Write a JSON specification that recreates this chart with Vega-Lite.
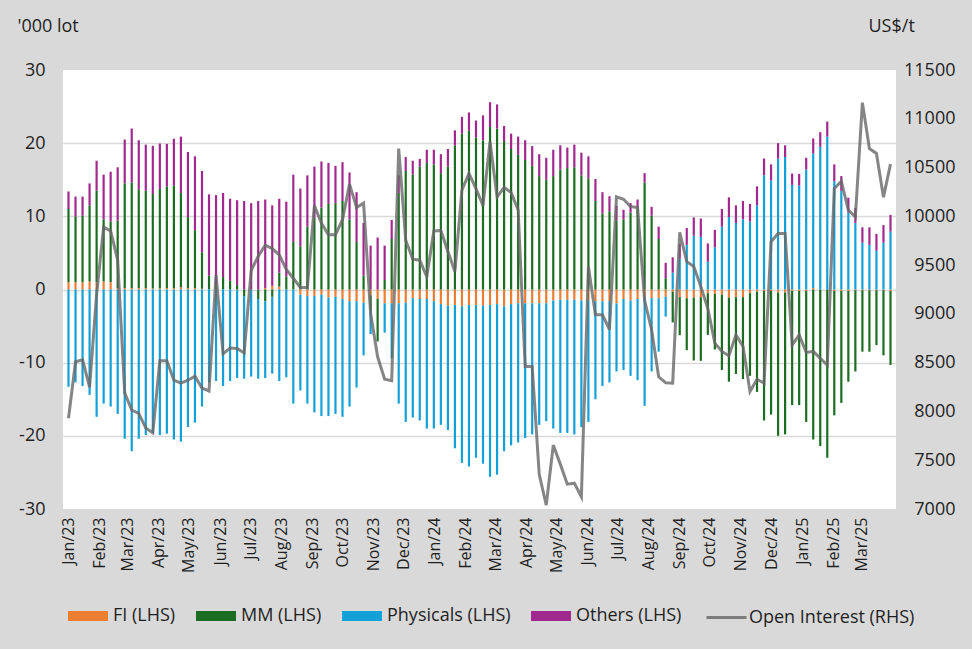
{
  "$schema": "https://vega.github.io/schema/vega-lite/v6.json",
  "description": "Weekly positions by trader category ('000 lot, LHS) with open interest (US$/t, RHS), Jan 2023 - Apr 2025.",
  "width": 833,
  "height": 439,
  "autosize": {"type": "none"},
  "padding": {"left": 63, "top": 70, "right": 76, "bottom": 140},
  "background": "#d9d9d9",
  "datasets": {
    "positions": [
      {"date": "2023-01-03", "FI": 1.0, "MM": 10.0, "Physicals": -13.3, "Others": 2.4, "OI": 7930},
      {"date": "2023-01-10", "FI": 1.0, "MM": 9.0, "Physicals": -12.7, "Others": 2.7, "OI": 8510},
      {"date": "2023-01-17", "FI": 1.0, "MM": 9.1, "Physicals": -13.2, "Others": 2.6, "OI": 8530},
      {"date": "2023-01-24", "FI": 1.1, "MM": 10.4, "Physicals": -14.4, "Others": 3.0, "OI": 8250},
      {"date": "2023-01-31", "FI": 1.0, "MM": 12.5, "Physicals": -17.4, "Others": 4.1, "OI": 9200},
      {"date": "2023-02-07", "FI": 1.1, "MM": 8.5, "Physicals": -15.6, "Others": 6.1, "OI": 9890},
      {"date": "2023-02-14", "FI": 1.0, "MM": 8.3, "Physicals": -16.0, "Others": 6.8, "OI": 9850},
      {"date": "2023-02-21", "FI": 0.2, "MM": 9.2, "Physicals": -17.0, "Others": 7.3, "OI": 9550},
      {"date": "2023-02-28", "FI": 0.2, "MM": 14.3, "Physicals": -20.4, "Others": 6.0, "OI": 8190},
      {"date": "2023-03-07", "FI": 0.2, "MM": 14.4, "Physicals": -22.1, "Others": 7.4, "OI": 8015},
      {"date": "2023-03-14", "FI": 0.2, "MM": 13.5, "Physicals": -20.4, "Others": 6.7, "OI": 7980},
      {"date": "2023-03-21", "FI": 0.2, "MM": 13.3, "Physicals": -19.9, "Others": 6.3, "OI": 7830},
      {"date": "2023-03-28", "FI": 0.15, "MM": 12.9, "Physicals": -19.6, "Others": 6.6, "OI": 7780},
      {"date": "2023-04-04", "FI": 0.15, "MM": 13.6, "Physicals": -19.9, "Others": 6.2, "OI": 8520},
      {"date": "2023-04-11", "FI": 0.2, "MM": 13.9, "Physicals": -19.7, "Others": 5.8, "OI": 8520},
      {"date": "2023-04-18", "FI": 0.2, "MM": 14.0, "Physicals": -20.5, "Others": 6.4, "OI": 8320},
      {"date": "2023-04-25", "FI": 0.3, "MM": 12.9, "Physicals": -20.8, "Others": 7.7, "OI": 8290},
      {"date": "2023-05-02", "FI": 0.2, "MM": 9.7, "Physicals": -18.8, "Others": 8.9, "OI": 8320},
      {"date": "2023-05-09", "FI": 0.2, "MM": 7.9, "Physicals": -18.2, "Others": 10.1, "OI": 8360},
      {"date": "2023-05-16", "FI": 0.1, "MM": 5.0, "Physicals": -16.0, "Others": 11.1, "OI": 8240},
      {"date": "2023-05-23", "FI": 0.0, "MM": 1.9, "Physicals": -12.7, "Others": 11.1, "OI": 8210},
      {"date": "2023-05-30", "FI": 0.0, "MM": 0.5, "Physicals": -12.5, "Others": 12.4, "OI": 9400},
      {"date": "2023-06-06", "FI": 0.0, "MM": 1.7, "Physicals": -13.2, "Others": 11.5, "OI": 8590},
      {"date": "2023-06-13", "FI": 0.0, "MM": 1.2, "Physicals": -12.5, "Others": 11.2, "OI": 8650},
      {"date": "2023-06-20", "FI": -0.1, "MM": 0.6, "Physicals": -12.0, "Others": 11.6, "OI": 8645},
      {"date": "2023-06-27", "FI": 0.0, "MM": -0.9, "Physicals": -11.3, "Others": 12.1, "OI": 8600},
      {"date": "2023-07-04", "FI": 0.0, "MM": 0.0, "Physicals": -11.9, "Others": 11.8, "OI": 9445},
      {"date": "2023-07-11", "FI": 0.0, "MM": -1.3, "Physicals": -10.9, "Others": 12.1, "OI": 9590},
      {"date": "2023-07-18", "FI": 0.2, "MM": -1.6, "Physicals": -10.5, "Others": 12.1, "OI": 9705},
      {"date": "2023-07-25", "FI": 0.5, "MM": -1.0, "Physicals": -10.5, "Others": 11.0, "OI": 9670},
      {"date": "2023-08-01", "FI": 0.4, "MM": 1.9, "Physicals": -12.5, "Others": 10.1, "OI": 9605},
      {"date": "2023-08-08", "FI": 0.0, "MM": 1.8, "Physicals": -12.0, "Others": 10.2, "OI": 9455},
      {"date": "2023-08-15", "FI": 0.0, "MM": 6.5, "Physicals": -15.6, "Others": 9.2, "OI": 9365},
      {"date": "2023-08-22", "FI": -0.7, "MM": 5.9, "Physicals": -13.1, "Others": 7.9, "OI": 9270},
      {"date": "2023-08-29", "FI": -0.9, "MM": 8.6, "Physicals": -14.7, "Others": 7.0, "OI": 9270},
      {"date": "2023-09-05", "FI": -0.9, "MM": 9.8, "Physicals": -15.9, "Others": 7.0, "OI": 10110},
      {"date": "2023-09-12", "FI": -0.7, "MM": 11.2, "Physicals": -16.6, "Others": 6.3, "OI": 9930},
      {"date": "2023-09-19", "FI": -1.1, "MM": 11.7, "Physicals": -16.2, "Others": 5.6, "OI": 9810},
      {"date": "2023-09-26", "FI": -1.0, "MM": 11.8, "Physicals": -16.0, "Others": 5.1, "OI": 9810},
      {"date": "2023-10-03", "FI": -1.3, "MM": 12.1, "Physicals": -16.1, "Others": 5.3, "OI": 9965},
      {"date": "2023-10-10", "FI": -1.6, "MM": 9.6, "Physicals": -14.4, "Others": 6.4, "OI": 10330},
      {"date": "2023-10-17", "FI": -1.6, "MM": 6.5, "Physicals": -11.8, "Others": 6.8, "OI": 10090},
      {"date": "2023-10-24", "FI": -1.8, "MM": 1.9, "Physicals": -7.2, "Others": 7.2, "OI": 10135},
      {"date": "2023-10-31", "FI": -0.8, "MM": -2.0, "Physicals": -3.3, "Others": 6.0, "OI": 9005},
      {"date": "2023-11-07", "FI": -1.3, "MM": -5.8, "Physicals": 0.0, "Others": 7.1, "OI": 8560},
      {"date": "2023-11-14", "FI": -1.9, "MM": 1.3, "Physicals": -4.0, "Others": 4.7, "OI": 8330},
      {"date": "2023-11-21", "FI": -1.9, "MM": 6.9, "Physicals": -7.5, "Others": 2.6, "OI": 8315},
      {"date": "2023-11-28", "FI": -1.9, "MM": 13.2, "Physicals": -13.7, "Others": 2.4, "OI": 10695},
      {"date": "2023-12-05", "FI": -1.8, "MM": 16.2, "Physicals": -16.3, "Others": 1.9, "OI": 9755},
      {"date": "2023-12-12", "FI": -1.2, "MM": 15.7, "Physicals": -16.3, "Others": 1.9, "OI": 9560},
      {"date": "2023-12-19", "FI": -1.3, "MM": 16.8, "Physicals": -16.6, "Others": 1.05, "OI": 9550},
      {"date": "2023-12-26", "FI": -1.3, "MM": 17.3, "Physicals": -17.7, "Others": 1.8, "OI": 9380},
      {"date": "2024-01-02", "FI": -1.6, "MM": 17.1, "Physicals": -17.4, "Others": 2.0, "OI": 9850},
      {"date": "2024-01-09", "FI": -2.0, "MM": 15.9, "Physicals": -16.5, "Others": 2.6, "OI": 9855},
      {"date": "2024-01-16", "FI": -2.2, "MM": 16.8, "Physicals": -17.0, "Others": 2.4, "OI": 9640},
      {"date": "2024-01-23", "FI": -2.1, "MM": 19.7, "Physicals": -19.6, "Others": 2.05, "OI": 9435},
      {"date": "2024-01-30", "FI": -2.3, "MM": 21.3, "Physicals": -21.4, "Others": 2.3, "OI": 10270},
      {"date": "2024-02-06", "FI": -2.1, "MM": 21.7, "Physicals": -22.1, "Others": 2.5, "OI": 10440},
      {"date": "2024-02-13", "FI": -2.1, "MM": 20.8, "Physicals": -20.9, "Others": 2.3, "OI": 10285},
      {"date": "2024-02-20", "FI": -2.2, "MM": 20.4, "Physicals": -21.6, "Others": 3.4, "OI": 10110},
      {"date": "2024-02-27", "FI": -2.1, "MM": 22.2, "Physicals": -23.5, "Others": 3.4, "OI": 10765},
      {"date": "2024-03-05", "FI": -2.0, "MM": 22.0, "Physicals": -23.3, "Others": 3.3, "OI": 10200},
      {"date": "2024-03-12", "FI": -2.3, "MM": 20.3, "Physicals": -19.8, "Others": 2.05, "OI": 10295},
      {"date": "2024-03-19", "FI": -2.0, "MM": 19.2, "Physicals": -19.3, "Others": 2.1, "OI": 10245},
      {"date": "2024-03-26", "FI": -1.9, "MM": 18.4, "Physicals": -19.0, "Others": 2.5, "OI": 10065},
      {"date": "2024-04-02", "FI": -1.9, "MM": 17.7, "Physicals": -18.4, "Others": 2.7, "OI": 8460},
      {"date": "2024-04-09", "FI": -1.9, "MM": 16.9, "Physicals": -17.9, "Others": 2.7, "OI": 8460},
      {"date": "2024-04-16", "FI": -1.9, "MM": 15.5, "Physicals": -16.6, "Others": 3.0, "OI": 7355},
      {"date": "2024-04-23", "FI": -1.9, "MM": 15.0, "Physicals": -16.1, "Others": 3.0, "OI": 7040},
      {"date": "2024-04-30", "FI": -1.5, "MM": 15.5, "Physicals": -17.5, "Others": 3.6, "OI": 7655},
      {"date": "2024-05-07", "FI": -1.4, "MM": 16.4, "Physicals": -18.2, "Others": 3.3, "OI": 7460},
      {"date": "2024-05-14", "FI": -1.4, "MM": 16.6, "Physicals": -18.2, "Others": 2.8, "OI": 7255},
      {"date": "2024-05-21", "FI": -1.4, "MM": 16.7, "Physicals": -18.4, "Others": 3.1, "OI": 7265},
      {"date": "2024-05-28", "FI": -1.5, "MM": 15.6, "Physicals": -17.3, "Others": 3.1, "OI": 7125},
      {"date": "2024-06-04", "FI": -1.5, "MM": 15.2, "Physicals": -16.6, "Others": 3.0, "OI": 9485},
      {"date": "2024-06-11", "FI": -1.6, "MM": 12.1, "Physicals": -13.4, "Others": 3.0, "OI": 8990},
      {"date": "2024-06-18", "FI": -1.6, "MM": 10.4, "Physicals": -11.6, "Others": 2.9, "OI": 8990},
      {"date": "2024-06-25", "FI": -1.6, "MM": 10.7, "Physicals": -11.1, "Others": 2.05, "OI": 8840},
      {"date": "2024-07-02", "FI": -1.9, "MM": 9.4, "Physicals": -9.3, "Others": 2.05, "OI": 10200},
      {"date": "2024-07-09", "FI": -1.3, "MM": 9.6, "Physicals": -9.7, "Others": 1.3, "OI": 10175},
      {"date": "2024-07-16", "FI": -1.5, "MM": 10.5, "Physicals": -10.3, "Others": 1.3, "OI": 10100},
      {"date": "2024-07-23", "FI": -1.3, "MM": 11.1, "Physicals": -11.1, "Others": 1.2, "OI": 10090},
      {"date": "2024-07-30", "FI": -1.0, "MM": 14.6, "Physicals": -14.9, "Others": 1.3, "OI": 9140},
      {"date": "2024-08-06", "FI": -1.2, "MM": 10.1, "Physicals": -10.0, "Others": 1.2, "OI": 8835},
      {"date": "2024-08-13", "FI": -1.2, "MM": 6.9, "Physicals": -7.3, "Others": 1.7, "OI": 8355},
      {"date": "2024-08-20", "FI": -1.0, "MM": 1.55, "Physicals": -2.7, "Others": 2.1, "OI": 8295},
      {"date": "2024-08-27", "FI": -0.3, "MM": -4.2, "Physicals": 2.3, "Others": 2.1, "OI": 8290},
      {"date": "2024-09-03", "FI": -1.05, "MM": -5.2, "Physicals": 4.2, "Others": 2.0, "OI": 9835},
      {"date": "2024-09-10", "FI": -1.2, "MM": -7.1, "Physicals": 6.1, "Others": 2.3, "OI": 9535},
      {"date": "2024-09-17", "FI": -1.1, "MM": -8.6, "Physicals": 7.35, "Others": 2.5, "OI": 9485},
      {"date": "2024-09-24", "FI": -1.05, "MM": -8.7, "Physicals": 7.2, "Others": 2.5, "OI": 9280},
      {"date": "2024-10-01", "FI": -0.5, "MM": -5.7, "Physicals": 3.8, "Others": 2.5, "OI": 9055},
      {"date": "2024-10-08", "FI": -0.6, "MM": -7.6, "Physicals": 5.75, "Others": 2.4, "OI": 8700},
      {"date": "2024-10-15", "FI": -0.7, "MM": -10.3, "Physicals": 8.6, "Others": 2.4, "OI": 8615},
      {"date": "2024-10-22", "FI": -1.1, "MM": -11.5, "Physicals": 9.9, "Others": 2.7, "OI": 8570},
      {"date": "2024-10-29", "FI": -1.05, "MM": -10.5, "Physicals": 9.1, "Others": 2.4, "OI": 8785},
      {"date": "2024-11-05", "FI": -1.05, "MM": -11.2, "Physicals": 9.6, "Others": 2.5, "OI": 8670},
      {"date": "2024-11-12", "FI": -0.5, "MM": -11.3, "Physicals": 9.3, "Others": 2.4, "OI": 8205},
      {"date": "2024-11-19", "FI": -0.3, "MM": -13.7, "Physicals": 11.5, "Others": 2.6, "OI": 8330},
      {"date": "2024-11-26", "FI": -0.2, "MM": -17.7, "Physicals": 15.6, "Others": 2.3, "OI": 8290},
      {"date": "2024-12-03", "FI": -0.2, "MM": -16.9, "Physicals": 14.9, "Others": 2.2, "OI": 9740},
      {"date": "2024-12-10", "FI": -0.4, "MM": -19.6, "Physicals": 17.9, "Others": 2.1, "OI": 9825},
      {"date": "2024-12-17", "FI": -0.4, "MM": -19.4, "Physicals": 18.1, "Others": 1.6, "OI": 9825},
      {"date": "2024-12-24", "FI": -0.2, "MM": -15.6, "Physicals": 14.3, "Others": 1.55, "OI": 8680},
      {"date": "2024-12-31", "FI": -0.2, "MM": -15.6, "Physicals": 14.2, "Others": 1.6, "OI": 8785},
      {"date": "2025-01-07", "FI": -0.2, "MM": -17.9, "Physicals": 16.4, "Others": 1.6, "OI": 8605},
      {"date": "2025-01-14", "FI": 0.2, "MM": -20.5, "Physicals": 18.4, "Others": 2.05, "OI": 8615},
      {"date": "2025-01-21", "FI": 0.0, "MM": -21.4, "Physicals": 19.5, "Others": 2.0, "OI": 8545},
      {"date": "2025-01-28", "FI": 0.0, "MM": -23.0, "Physicals": 20.9, "Others": 2.05, "OI": 8475},
      {"date": "2025-02-04", "FI": -0.2, "MM": -17.0, "Physicals": 14.8, "Others": 2.3, "OI": 10285},
      {"date": "2025-02-11", "FI": -0.2, "MM": -15.3, "Physicals": 13.5, "Others": 2.0, "OI": 10360},
      {"date": "2025-02-18", "FI": -0.2, "MM": -12.4, "Physicals": 10.5, "Others": 2.05, "OI": 10065},
      {"date": "2025-02-25", "FI": -0.1, "MM": -11.1, "Physicals": 9.1, "Others": 2.05, "OI": 9995},
      {"date": "2025-03-04", "FI": -0.1, "MM": -8.4, "Physicals": 6.4, "Others": 2.1, "OI": 11165},
      {"date": "2025-03-11", "FI": -0.1, "MM": -8.4, "Physicals": 6.1, "Others": 2.4, "OI": 10695},
      {"date": "2025-03-18", "FI": -0.1, "MM": -7.5, "Physicals": 5.3, "Others": 2.3, "OI": 10645},
      {"date": "2025-03-25", "FI": -0.1, "MM": -8.9, "Physicals": 6.4, "Others": 2.4, "OI": 10195},
      {"date": "2025-04-01", "FI": -0.2, "MM": -10.1, "Physicals": 7.9, "Others": 2.3, "OI": 10535}
    ],
    "seriesOrder": [
      {"series": "FI", "rank": 1},
      {"series": "MM", "rank": 2},
      {"series": "Physicals", "rank": 3},
      {"series": "Others", "rank": 4}
    ]
  },
  "data": {"name": "positions"},
  "encoding": {
    "x": {
      "field": "date",
      "type": "temporal",
      "scale": {
        "type": "utc",
        "domain": [
          {"year": 2023, "month": 1, "date": 2, "hours": 12, "utc": true},
          {"year": 2025, "month": 4, "date": 1, "hours": 12, "utc": true}
        ]
      },
      "axis": {
        "title": null,
        "labelExpr": "utcFormat(datum.value, '%b/%y')",
        "labelAngle": -90,
        "labelFontSize": 16,
        "labelColor": "#1f1f1f",
        "labelPadding": 8,
        "labelOverlap": false,
        "labelFlush": false,
        "labelBound": false,
        "domain": false,
        "ticks": false,
        "grid": false,
        "values": [
          {"year": 2023, "month": 1, "date": 3, "utc": true},
          {"year": 2023, "month": 2, "date": 3, "utc": true},
          {"year": 2023, "month": 3, "date": 3, "utc": true},
          {"year": 2023, "month": 4, "date": 3, "utc": true},
          {"year": 2023, "month": 5, "date": 3, "utc": true},
          {"year": 2023, "month": 6, "date": 3, "utc": true},
          {"year": 2023, "month": 7, "date": 3, "utc": true},
          {"year": 2023, "month": 8, "date": 3, "utc": true},
          {"year": 2023, "month": 9, "date": 3, "utc": true},
          {"year": 2023, "month": 10, "date": 3, "utc": true},
          {"year": 2023, "month": 11, "date": 3, "utc": true},
          {"year": 2023, "month": 12, "date": 3, "utc": true},
          {"year": 2024, "month": 1, "date": 3, "utc": true},
          {"year": 2024, "month": 2, "date": 3, "utc": true},
          {"year": 2024, "month": 3, "date": 3, "utc": true},
          {"year": 2024, "month": 4, "date": 3, "utc": true},
          {"year": 2024, "month": 5, "date": 3, "utc": true},
          {"year": 2024, "month": 6, "date": 3, "utc": true},
          {"year": 2024, "month": 7, "date": 3, "utc": true},
          {"year": 2024, "month": 8, "date": 3, "utc": true},
          {"year": 2024, "month": 9, "date": 3, "utc": true},
          {"year": 2024, "month": 10, "date": 3, "utc": true},
          {"year": 2024, "month": 11, "date": 3, "utc": true},
          {"year": 2024, "month": 12, "date": 3, "utc": true},
          {"year": 2025, "month": 1, "date": 3, "utc": true},
          {"year": 2025, "month": 2, "date": 3, "utc": true},
          {"year": 2025, "month": 3, "date": 3, "utc": true}
        ]
      }
    }
  },
  "layer": [
    {
      "transform": [
        {"fold": ["FI", "MM", "Physicals", "Others"], "as": ["series", "lots"]},
        {"lookup": "series", "from": {"data": {"name": "seriesOrder"}, "key": "series", "fields": ["rank"]}}
      ],
      "mark": {"type": "bar", "width": 2.2},
      "encoding": {
        "y": {
          "field": "lots",
          "type": "quantitative",
          "stack": "zero",
          "scale": {"domain": [-30, 30], "nice": false},
          "axis": {
            "title": "'000 lot",
            "titleAngle": 0,
            "titleAlign": "left",
            "titleBaseline": "alphabetic",
            "titleX": -46,
            "titleY": -39,
            "titleFontSize": 18,
            "titleFontWeight": "normal",
            "titleColor": "#1f1f1f",
            "values": [-30, -20, -10, 0, 10, 20, 30],
            "labelExpr": "'' + datum.value",
            "labelFontSize": 18,
            "labelColor": "#1f1f1f",
            "labelPadding": 18,
            "ticks": false,
            "tickSize": 0,
            "domain": false,
            "grid": true,
            "gridColor": "#d9d9d9",
            "gridWidth": 1.6,
            "gridOpacity": {"condition": {"test": "abs(datum.value) == 30", "value": 0}, "value": 1}
          }
        },
        "color": {
          "field": "series",
          "type": "nominal",
          "scale": {
            "domain": ["FI", "MM", "Physicals", "Others"],
            "range": ["#ed7d31", "#1b6d22", "#12a0d8", "#a1288f"]
          },
          "legend": {
            "title": null,
            "orient": "none",
            "legendX": 15,
            "legendY": 536,
            "direction": "horizontal",
            "padding": 0,
            "symbolType": "M-2,-0.5H2V0.5H-2Z",
            "symbolSize": 400,
            "symbolStrokeWidth": 0,
            "symbolOpacity": 1,
            "labelOffset": 15,
            "labelFontSize": 18,
            "labelColor": "#1f1f1f",
            "labelLimit": 300,
            "columnPadding": 20,
            "labelExpr": "datum.label + ' (LHS)'"
          }
        },
        "order": {"field": "rank", "type": "quantitative", "sort": "ascending"}
      }
    },
    {
      "mark": {"type": "line", "strokeWidth": 3, "opacity": 0.8},
      "encoding": {
        "y": {
          "field": "OI",
          "type": "quantitative",
          "scale": {"domain": [7000, 11500], "nice": false},
          "axis": {
            "orient": "right",
            "title": "US$/t",
            "titleAngle": 0,
            "titleAlign": "left",
            "titleBaseline": "alphabetic",
            "titleX": -28,
            "titleY": -39,
            "titleFontSize": 18,
            "titleFontWeight": "normal",
            "titleColor": "#1f1f1f",
            "values": [7000, 7500, 8000, 8500, 9000, 9500, 10000, 10500, 11000, 11500],
            "format": "d",
            "labelAlign": "right",
            "labelPadding": 59,
            "labelFontSize": 18,
            "labelColor": "#1f1f1f",
            "ticks": false,
            "tickSize": 0,
            "domain": false,
            "grid": false
          }
        },
        "stroke": {
          "datum": "Open Interest (RHS)",
          "type": "nominal",
          "scale": {"range": ["#666666"]},
          "legend": {
            "title": null,
            "orient": "none",
            "legendX": 652,
            "legendY": 536,
            "padding": 0,
            "symbolType": "M-2,0H2",
            "symbolSize": 400,
            "symbolStrokeWidth": 3,
            "labelOffset": 11,
            "labelFontSize": 18,
            "labelColor": "#1f1f1f",
            "labelLimit": 300
          }
        }
      }
    }
  ],
  "resolve": {"scale": {"y": "independent", "color": "independent"}},
  "config": {
    "font": "Open Sans",
    "view": {"fill": "white", "stroke": null}
  }
}
